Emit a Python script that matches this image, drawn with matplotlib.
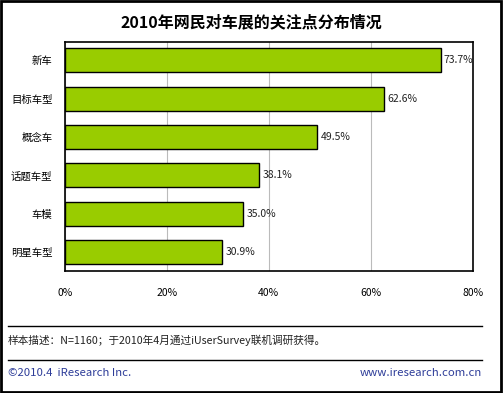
import matplotlib
matplotlib.use("Agg")
import matplotlib.pyplot as plt
from matplotlib.lines import Line2D
from matplotlib.patches import Rectangle

plt.rcParams['font.family'] = ['Noto Sans CJK SC', 'DejaVu Sans']

# data, top to bottom as in the chart
categories = ['新车', '目标车型', '概念车', '话题车型', '车模', '明星车型']
values = [73.7, 62.6, 49.5, 38.1, 35.0, 30.9]
xticks = [0, 20, 40, 60, 80]
xtick_labels = ['0%', '20%', '40%', '60%', '80%']

title = '2010年网民对车展的关注点分布情况'
note = '样本描述：N=1160；于2010年4月通过iUserSurvey联机调研获得。'
footer_left = '©2010.4  iResearch Inc.'
footer_right = 'www.iresearch.com.cn'

fig = plt.figure(figsize=(5.03, 3.93), dpi=100)
ax = fig.add_axes([0.129, 0.310, 0.811, 0.583])

pos = list(range(len(categories)))
ax.barh(pos, values, height=0.625, color='#99CC00', edgecolor='black', linewidth=1, zorder=3)
for p, v in zip(pos, values):
    ax.text(v + 0.6, p, f'{v:.1f}%', va='center', ha='left', fontsize=7.5, color='#222222')

ax.set_xlim(0, 80)
ax.set_ylim(len(categories) - 0.51, -0.47)
ax.set_yticks(pos)
ax.set_yticklabels(categories, fontsize=7.5)
ax.set_xticks(xticks)
ax.set_xticklabels(xtick_labels, fontsize=7.5)
ax.tick_params(axis='both', length=0)
ax.tick_params(axis='x', pad=12)
ax.tick_params(axis='y', pad=9)
ax.grid(axis='x', color='#bbbbbb', linewidth=0.8, zorder=0)
for s in ax.spines.values():
    s.set_linewidth(1.2)

fig.text(0.5, 1 - 22 / 393, title, ha='center', va='center', fontsize=11.5, fontweight='bold')

# footnote separators
fig.add_artist(Line2D([0.016, 0.958], [1 - 326 / 393] * 2, color='black', linewidth=1))
fig.add_artist(Line2D([0.016, 0.958], [1 - 360 / 393] * 2, color='black', linewidth=1))
fig.text(0.016, 1 - 340 / 393, note, ha='left', va='center', fontsize=7.7, color='#222222')
fig.text(0.016, 1 - 373 / 393, footer_left, ha='left', va='center', fontsize=8.2, color='#2E3D99')
fig.text(0.958, 1 - 373 / 393, footer_right, ha='right', va='center', fontsize=8.2, color='#2E3D99')

# outer frame
fig.add_artist(Rectangle((0.002, 0.003), 0.994, 0.994, transform=fig.transFigure,
                         fill=False, edgecolor='black', linewidth=2))

fig.savefig('out.png', dpi=100)
